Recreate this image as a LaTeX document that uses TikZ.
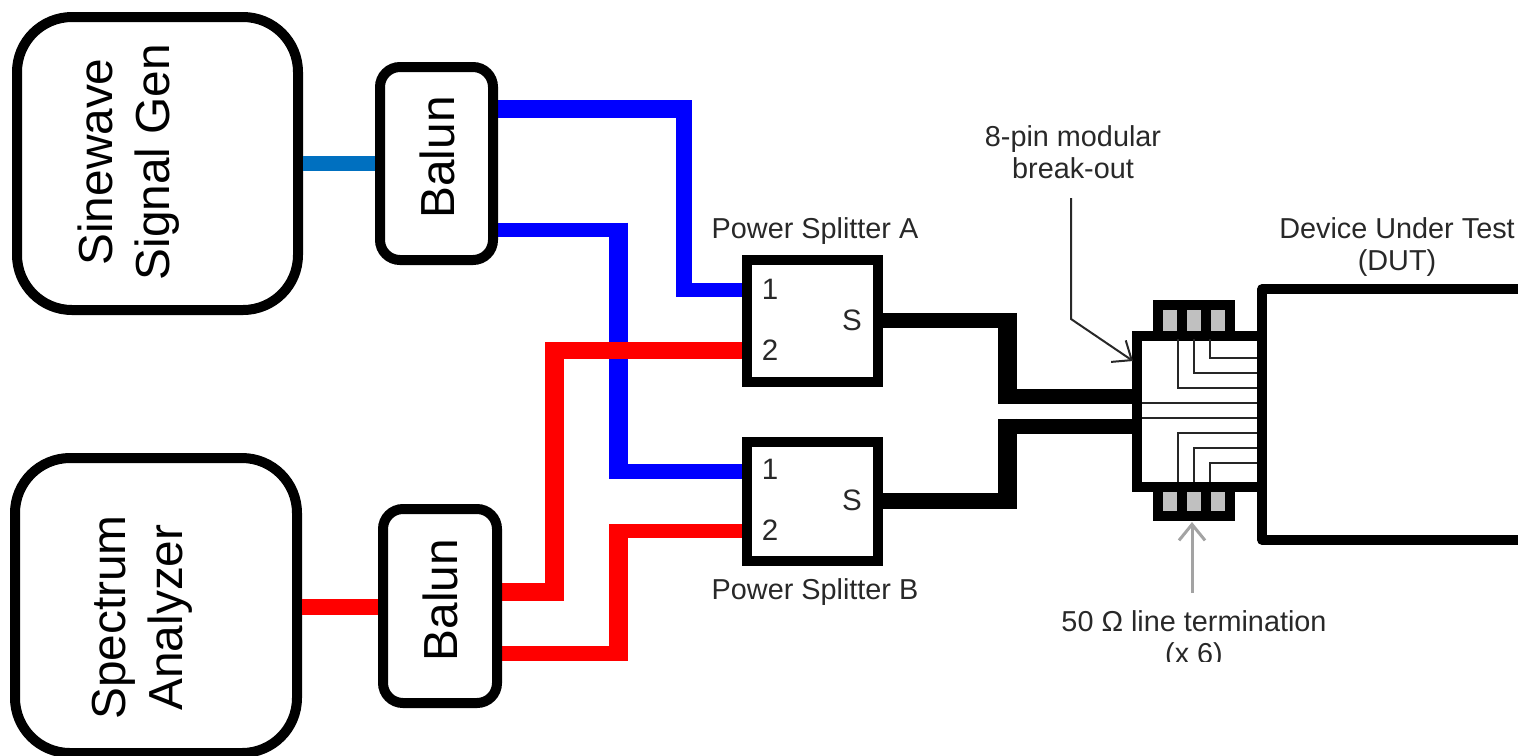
\documentclass[tikz,border=0pt]{standalone}
\usepackage{fontspec}
\setmainfont{Liberation Sans}
\usetikzlibrary{arrows.meta}
\definecolor{wireblue}{RGB}{0,0,255}
\definecolor{wirered}{RGB}{255,0,0}
\definecolor{linkblue}{RGB}{0,112,192}
\definecolor{slotgray}{RGB}{192,192,192}
\definecolor{inkgray}{RGB}{40,40,40}
\tikzset{
  instrbox/.style={draw,line width=1mm,rounded corners=5.5mm,inner sep=0pt},
  balunbox/.style={draw,line width=1mm,rounded corners=2mm,inner sep=0pt},
  splitbox/.style={draw,line width=1mm,inner sep=0pt},
  biglabel/.style={font=\fontsize{13.6}{16.2}\selectfont,rotate=90,align=center,inner sep=0pt},
  smalllabel/.style={font=\fontsize{8.2}{9.2}\selectfont,text=inkgray,align=center,inner sep=0pt},
  portlabel/.style={font=\fontsize{8.4}{10}\selectfont,text=inkgray,inner sep=0pt},
  bluewire/.style={draw=wireblue,line width=1.45mm},
  redwire/.style={draw=wirered,line width=1.45mm},
  blackwire/.style={draw=black,line width=1.55mm},
  thinwire/.style={draw=black!85,line width=0.2mm},
  callout/.style={draw=inkgray,line width=0.2mm,-{Straight Barb[length=1.6mm,width=2.6mm]}},
}
\begin{document}
\begin{tikzpicture}[x=0.1mm,y=-0.1mm]
\useasboundingbox (0,0) rectangle (1518,755);

%cable ends
\coordinate (balunAoutOne) at (497,109);
\coordinate (balunAoutTwo) at (497,230);
\coordinate (balunBoutOne) at (501,592);
\coordinate (balunBoutTwo) at (501,653.5);
\coordinate (splitAinOne) at (747,290);
\coordinate (splitAinTwo) at (747,350.5);
\coordinate (splitBinOne) at (747,471.5);
\coordinate (splitBinTwo) at (747,531);
\coordinate (splitAout) at (878,320.5);
\coordinate (splitBout) at (878,501);
\coordinate (brkInA) at (1135,396.5);
\coordinate (brkInB) at (1135,426.5);

%cables
\draw[bluewire] (balunAoutOne) -- (684,109) -- (684,290) -- (splitAinOne);
\draw[bluewire,line width=1.6mm] (684,100.25) -- (684,297.25);
\draw[bluewire,line width=1.75mm] (balunAoutOne) -- (692,109);
\draw[bluewire] (balunAoutTwo) -- (618.5,230) -- (618.5,471.5) -- (splitBinOne);
\draw[bluewire,line width=1.9mm] (618.5,222.5) -- (618.5,479);
\draw[redwire,line width=1.75mm] (554.5,350.5) -- (splitAinTwo);
\draw[redwire,line width=1.75mm] (balunBoutOne) -- (564,592);
\draw[redwire,line width=1.9mm] (554.5,600.75) -- (554.5,341.75);
\draw[redwire] (balunBoutTwo) -- (618.5,653.5) -- (618.5,531) -- (splitBinTwo);
\draw[redwire,line width=1.9mm] (618.5,660.75) -- (618.5,523.75);
\draw[blackwire] (splitAout) -- (1007.5,320.5) -- (1007.5,396.5) -- (brkInA);
\draw[blackwire] (splitBout) -- (1007.5,501) -- (1007.5,426.5) -- (brkInB);
\draw[blackwire,line width=1.85mm] (1007.5,312.75) -- (1007.5,404.25);
\draw[blackwire,line width=1.85mm] (1007.5,418.75) -- (1007.5,508.75);

%instruments
\node[instrbox,minimum width=28.1mm,minimum height=29.3mm] (sigGen) at (157.5,163.5) {};
\node[instrbox,minimum width=28.2mm,minimum height=29.5mm] (specAn) at (156,605.5) {};
\node[biglabel] (sigGenText) at (129,162) {Sinewave\\Signal Gen};
\node[biglabel] (specAnText) at (142,617.5) {Spectrum\\Analyzer};

%baluns
\node[balunbox,minimum width=11.3mm,minimum height=19.3mm] (balunA) at (436.5,163.5) {};
\node[balunbox,minimum width=11.4mm,minimum height=19.4mm] (balunB) at (440,606) {};
\node[biglabel] (balunAText) at (437,157.5) {Balun};
\node[biglabel] (balunBText) at (440,600) {Balun};
\draw[draw=linkblue,line width=1.5mm] (sigGen.east |- 0,163.5) -- (balunA.west |- 0,163.5);
\draw[draw=wirered,line width=1.6mm] (specAn.east |- 0,607) -- (balunB.west |- 0,607);

%splitter
\node[splitbox,minimum width=13.1mm,minimum height=12.2mm] (splitA) at (812.5,321) {};
\node[splitbox,minimum width=13.1mm,minimum height=11.9mm] (splitB) at (812.5,501.5) {};
\foreach \nm/\yy in {A/0,B/180}{
  \node[portlabel] (port\nm one) at (770,289+\yy) {1};
  \node[portlabel] (port\nm two) at (770,350+\yy) {2};
  \node[portlabel] (port\nm sum) at (852,320+\yy) {S};
}
\node[smalllabel] (splitAText) at (815,231) {Power Splitter A};
\node[smalllabel] (splitBText) at (815,592) {Power Splitter B};

%break-out
\fill (1153,300) rectangle (1235,332);
\fill (1153,491) rectangle (1235,521);
\foreach \xx in {1163,1187,1211}{
  \fill[slotgray] (\xx,310) rectangle (\xx+14,332);
  \fill[slotgray] (\xx,491) rectangle (\xx+14,511);
}
\draw[line width=1.0mm] (1258,336) -- (1137,336) -- (1137,486.5) -- (1258,486.5);
\foreach \xx/\yy in {1177.5/388,1194/373,1210/358}
  \draw[thinwire] (\xx,339) |- (1258,\yy);
\foreach \xx/\yy in {1177.5/433,1194/448,1210/463}
  \draw[thinwire] (\xx,482) |- (1258,\yy);
\draw[thinwire] (1142,403) -- (1258,403);
\draw[thinwire] (1142,418) -- (1258,418);

%dut
\draw[line width=0.95mm,line join=round] (1518,289) -- (1262,289) -- (1262,540) -- (1518,540);
\node[smalllabel] (dutText) at (1397,247) {Device Under Test\\(DUT)};

%callouts
\node[smalllabel] (brkText) at (1073,152) {8-pin modular\\break-out};
\begin{scope}
\clip (1000,600) rectangle (1400,661);
\node[smalllabel] (termText) at (1194,640) {50 Ω line termination\\(x 6)};
\end{scope}
\coordinate (brkTurn) at (1071,319);
\coordinate (brkTip) at (1133,361);
\coordinate (termTail) at (1192,593);
\coordinate (termTip) at (1192,522);
\draw[callout] (1071,198) -- (brkTurn) -- (brkTip);
\draw[callout,draw=slotgray!85!black,line width=0.3mm] (termTail) -- (termTip);
\end{tikzpicture}
\end{document}
